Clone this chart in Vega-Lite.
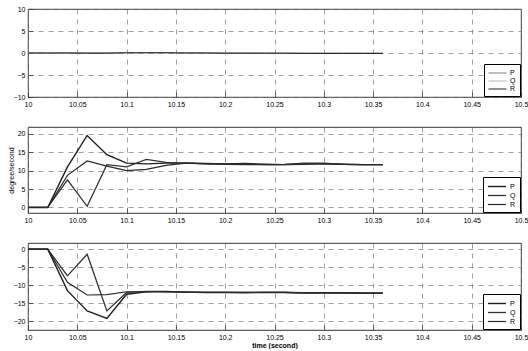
{
  "$schema": "https://vega.github.io/schema/vega-lite/v6.json",
  "background": "white",
  "padding": {"left": 6, "top": 4, "right": 0, "bottom": 0},
  "spacing": 30,
  "bounds": "flush",
  "config": {
    "font": "Liberation Sans",
    "view": {"stroke": "#000", "strokeWidth": 0.8},
    "axis": {
      "grid": true, "gridDash": [5, 5], "gridColor": "#777", "gridWidth": 0.7,
      "domain": false, "tickColor": "#333", "tickSize": -5, "tickWidth": 0.7,
      "labelFontSize": 7, "labelColor": "#000", "labelPadding": 8,
      "labelFlush": false, "labelOverlap": false,
      "titleFontSize": 7, "titleFontWeight": "normal", "titleColor": "#000"
    },
    "legend": {
      "orient": "bottom-right", "offset": 1, "strokeColor": "#000", "fillColor": "#fff",
      "padding": 4, "labelFontSize": 7, "labelColor": "#000", "symbolType": "M-1,0H3",
      "symbolSize": 81, "rowPadding": 0, "labelOffset": 12, "title": null
    }
  },
  "datasets": {
    "p1": [
      {"t":10,"v":0,"s":"P"},{"t":10.02,"v":0,"s":"P"},{"t":10.04,"v":0.05,"s":"P"},{"t":10.06,"v":0.05,"s":"P"},{"t":10.08,"v":0.05,"s":"P"},{"t":10.1,"v":0.1,"s":"P"},{"t":10.12,"v":0.1,"s":"P"},{"t":10.14,"v":0.1,"s":"P"},{"t":10.16,"v":0.05,"s":"P"},{"t":10.18,"v":0.05,"s":"P"},{"t":10.2,"v":0,"s":"P"},{"t":10.22,"v":0,"s":"P"},{"t":10.24,"v":-0.05,"s":"P"},{"t":10.26,"v":-0.05,"s":"P"},{"t":10.28,"v":-0.05,"s":"P"},{"t":10.3,"v":-0.05,"s":"P"},{"t":10.32,"v":-0.05,"s":"P"},{"t":10.34,"v":-0.05,"s":"P"},{"t":10.36,"v":-0.05,"s":"P"},
      {"t":10,"v":0,"s":"Q"},{"t":10.02,"v":0,"s":"Q"},{"t":10.04,"v":0,"s":"Q"},{"t":10.06,"v":0,"s":"Q"},{"t":10.08,"v":0,"s":"Q"},{"t":10.1,"v":0.05,"s":"Q"},{"t":10.12,"v":0.05,"s":"Q"},{"t":10.14,"v":0.05,"s":"Q"},{"t":10.16,"v":0.05,"s":"Q"},{"t":10.18,"v":0,"s":"Q"},{"t":10.2,"v":0,"s":"Q"},{"t":10.22,"v":0,"s":"Q"},{"t":10.24,"v":0,"s":"Q"},{"t":10.26,"v":0,"s":"Q"},{"t":10.28,"v":0,"s":"Q"},{"t":10.3,"v":0,"s":"Q"},{"t":10.32,"v":0,"s":"Q"},{"t":10.34,"v":0,"s":"Q"},{"t":10.36,"v":0,"s":"Q"},
      {"t":10,"v":0,"s":"R"},{"t":10.02,"v":0,"s":"R"},{"t":10.04,"v":0,"s":"R"},{"t":10.06,"v":-0.05,"s":"R"},{"t":10.08,"v":-0.05,"s":"R"},{"t":10.1,"v":0.05,"s":"R"},{"t":10.12,"v":0.05,"s":"R"},{"t":10.14,"v":0.05,"s":"R"},{"t":10.16,"v":0,"s":"R"},{"t":10.18,"v":0,"s":"R"},{"t":10.2,"v":-0.05,"s":"R"},{"t":10.22,"v":-0.05,"s":"R"},{"t":10.24,"v":-0.05,"s":"R"},{"t":10.26,"v":-0.05,"s":"R"},{"t":10.28,"v":-0.1,"s":"R"},{"t":10.3,"v":-0.1,"s":"R"},{"t":10.32,"v":-0.1,"s":"R"},{"t":10.34,"v":-0.1,"s":"R"},{"t":10.36,"v":-0.1,"s":"R"}
    ],
    "p2": [
      {"t":10,"v":0,"s":"P"},{"t":10.02,"v":0,"s":"P"},{"t":10.04,"v":11,"s":"P"},{"t":10.06,"v":19.5,"s":"P"},{"t":10.08,"v":14.3,"s":"P"},{"t":10.1,"v":12,"s":"P"},{"t":10.12,"v":11.8,"s":"P"},{"t":10.14,"v":12,"s":"P"},{"t":10.16,"v":12,"s":"P"},{"t":10.18,"v":11.9,"s":"P"},{"t":10.2,"v":11.8,"s":"P"},{"t":10.22,"v":11.9,"s":"P"},{"t":10.24,"v":11.7,"s":"P"},{"t":10.26,"v":11.6,"s":"P"},{"t":10.28,"v":11.8,"s":"P"},{"t":10.3,"v":11.8,"s":"P"},{"t":10.32,"v":11.7,"s":"P"},{"t":10.34,"v":11.6,"s":"P"},{"t":10.36,"v":11.6,"s":"P"},
      {"t":10,"v":0,"s":"Q"},{"t":10.02,"v":0,"s":"Q"},{"t":10.04,"v":7.5,"s":"Q"},{"t":10.06,"v":0.3,"s":"Q"},{"t":10.08,"v":11.6,"s":"Q"},{"t":10.1,"v":11,"s":"Q"},{"t":10.12,"v":13,"s":"Q"},{"t":10.14,"v":12.2,"s":"Q"},{"t":10.16,"v":12,"s":"Q"},{"t":10.18,"v":11.8,"s":"Q"},{"t":10.2,"v":11.7,"s":"Q"},{"t":10.22,"v":11.6,"s":"Q"},{"t":10.24,"v":11.6,"s":"Q"},{"t":10.26,"v":11.7,"s":"Q"},{"t":10.28,"v":12,"s":"Q"},{"t":10.3,"v":12,"s":"Q"},{"t":10.32,"v":11.7,"s":"Q"},{"t":10.34,"v":11.6,"s":"Q"},{"t":10.36,"v":11.6,"s":"Q"},
      {"t":10,"v":0,"s":"R"},{"t":10.02,"v":0,"s":"R"},{"t":10.04,"v":8.7,"s":"R"},{"t":10.06,"v":12.6,"s":"R"},{"t":10.08,"v":11.2,"s":"R"},{"t":10.1,"v":10,"s":"R"},{"t":10.12,"v":10.3,"s":"R"},{"t":10.14,"v":11.4,"s":"R"},{"t":10.16,"v":12,"s":"R"},{"t":10.18,"v":11.9,"s":"R"},{"t":10.2,"v":11.8,"s":"R"},{"t":10.22,"v":11.8,"s":"R"},{"t":10.24,"v":11.6,"s":"R"},{"t":10.26,"v":11.6,"s":"R"},{"t":10.28,"v":11.7,"s":"R"},{"t":10.3,"v":11.9,"s":"R"},{"t":10.32,"v":11.7,"s":"R"},{"t":10.34,"v":11.6,"s":"R"},{"t":10.36,"v":11.6,"s":"R"}
    ],
    "p3": [
      {"t":10,"v":0,"s":"P"},{"t":10.02,"v":0,"s":"P"},{"t":10.04,"v":-11.5,"s":"P"},{"t":10.06,"v":-17.1,"s":"P"},{"t":10.08,"v":-19.2,"s":"P"},{"t":10.1,"v":-12.5,"s":"P"},{"t":10.12,"v":-11.8,"s":"P"},{"t":10.14,"v":-11.7,"s":"P"},{"t":10.16,"v":-11.9,"s":"P"},{"t":10.18,"v":-12,"s":"P"},{"t":10.2,"v":-12,"s":"P"},{"t":10.22,"v":-12.1,"s":"P"},{"t":10.24,"v":-12,"s":"P"},{"t":10.26,"v":-12,"s":"P"},{"t":10.28,"v":-12.1,"s":"P"},{"t":10.3,"v":-12.1,"s":"P"},{"t":10.32,"v":-12.1,"s":"P"},{"t":10.34,"v":-12.2,"s":"P"},{"t":10.36,"v":-12.2,"s":"P"},
      {"t":10,"v":0,"s":"Q"},{"t":10.02,"v":0,"s":"Q"},{"t":10.04,"v":-7.4,"s":"Q"},{"t":10.06,"v":-1.4,"s":"Q"},{"t":10.08,"v":-17.1,"s":"Q"},{"t":10.1,"v":-12,"s":"Q"},{"t":10.12,"v":-11.7,"s":"Q"},{"t":10.14,"v":-11.8,"s":"Q"},{"t":10.16,"v":-11.9,"s":"Q"},{"t":10.18,"v":-12,"s":"Q"},{"t":10.2,"v":-12,"s":"Q"},{"t":10.22,"v":-12,"s":"Q"},{"t":10.24,"v":-12,"s":"Q"},{"t":10.26,"v":-12,"s":"Q"},{"t":10.28,"v":-12.1,"s":"Q"},{"t":10.3,"v":-12.1,"s":"Q"},{"t":10.32,"v":-12.1,"s":"Q"},{"t":10.34,"v":-12.2,"s":"Q"},{"t":10.36,"v":-12.2,"s":"Q"},
      {"t":10,"v":0,"s":"R"},{"t":10.02,"v":0,"s":"R"},{"t":10.04,"v":-9.2,"s":"R"},{"t":10.06,"v":-12.7,"s":"R"},{"t":10.08,"v":-12.6,"s":"R"},{"t":10.1,"v":-11.8,"s":"R"},{"t":10.12,"v":-11.8,"s":"R"},{"t":10.14,"v":-11.8,"s":"R"},{"t":10.16,"v":-11.9,"s":"R"},{"t":10.18,"v":-12,"s":"R"},{"t":10.2,"v":-12,"s":"R"},{"t":10.22,"v":-12,"s":"R"},{"t":10.24,"v":-12,"s":"R"},{"t":10.26,"v":-12,"s":"R"},{"t":10.28,"v":-12.1,"s":"R"},{"t":10.3,"v":-12.1,"s":"R"},{"t":10.32,"v":-12.1,"s":"R"},{"t":10.34,"v":-12.2,"s":"R"},{"t":10.36,"v":-12.2,"s":"R"}
    ]
  },
  "vconcat": [
    {
      "width": 493, "height": 88,
      "data": {"name": "p1"},
      "mark": {"type": "line"},
      "encoding": {
        "x": {"field": "t", "type": "quantitative", "scale": {"domain": [10, 10.5], "nice": false, "zero": false},
              "axis": {"values": [10, 10.05, 10.1, 10.15, 10.2, 10.25, 10.3, 10.35, 10.4, 10.45, 10.5], "format": "~g", "title": null}},
        "y": {"field": "v", "type": "quantitative", "scale": {"domain": [-10, 10], "nice": false},
              "axis": {"values": [-10, -5, 0, 5, 10], "title": null}},
        "stroke": {"field": "s", "type": "ordinal", "scale": {"domain": ["P", "Q", "R"], "range": ["#7a7a7a", "#b8b8b8", "#222222"]}, "legend": {"title": null}},
        "strokeWidth": {"field": "s", "type": "ordinal", "scale": {"domain": ["P", "Q", "R"], "range": [1, 1, 1.8]}, "legend": {"title": null}}
      }
    },
    {
      "width": 493, "height": 86,
      "data": {"name": "p2"},
      "mark": {"type": "line"},
      "encoding": {
        "x": {"field": "t", "type": "quantitative", "scale": {"domain": [10, 10.5], "nice": false, "zero": false},
              "axis": {"values": [10, 10.05, 10.1, 10.15, 10.2, 10.25, 10.3, 10.35, 10.4, 10.45, 10.5], "format": "~g", "title": null}},
        "y": {"field": "v", "type": "quantitative", "scale": {"domain": [-1.5, 21.8], "nice": false},
              "axis": {"values": [0, 5, 10, 15, 20], "title": "degree/second", "titlePadding": 3}},
        "stroke": {"field": "s", "type": "ordinal", "scale": {"domain": ["P", "Q", "R"], "range": ["#1e1e1e", "#333333", "#2a2a2a"]}, "legend": {"title": null}},
        "strokeWidth": {"field": "s", "type": "ordinal", "scale": {"domain": ["P", "Q", "R"], "range": [1.4, 1.2, 1.3]}, "legend": {"title": null}}
      }
    },
    {
      "width": 493, "height": 87,
      "data": {"name": "p3"},
      "mark": {"type": "line"},
      "encoding": {
        "x": {"field": "t", "type": "quantitative", "scale": {"domain": [10, 10.5], "nice": false, "zero": false},
              "axis": {"values": [10, 10.05, 10.1, 10.15, 10.2, 10.25, 10.3, 10.35, 10.4, 10.45, 10.5], "format": "~g", "title": "time (second)", "titleFontWeight": "bold", "titlePadding": 1}},
        "y": {"field": "v", "type": "quantitative", "scale": {"domain": [-22.4, 1.7], "nice": false},
              "axis": {"values": [0, -5, -10, -15, -20], "title": null}},
        "stroke": {"field": "s", "type": "ordinal", "scale": {"domain": ["P", "Q", "R"], "range": ["#1e1e1e", "#333333", "#2a2a2a"]}, "legend": {"title": null}},
        "strokeWidth": {"field": "s", "type": "ordinal", "scale": {"domain": ["P", "Q", "R"], "range": [1.4, 1.2, 1.3]}, "legend": {"title": null}}
      }
    }
  ],
  "resolve": {
    "scale": {"stroke": "independent", "strokeWidth": "independent"},
    "legend": {"stroke": "independent", "strokeWidth": "independent"}
  }
}
